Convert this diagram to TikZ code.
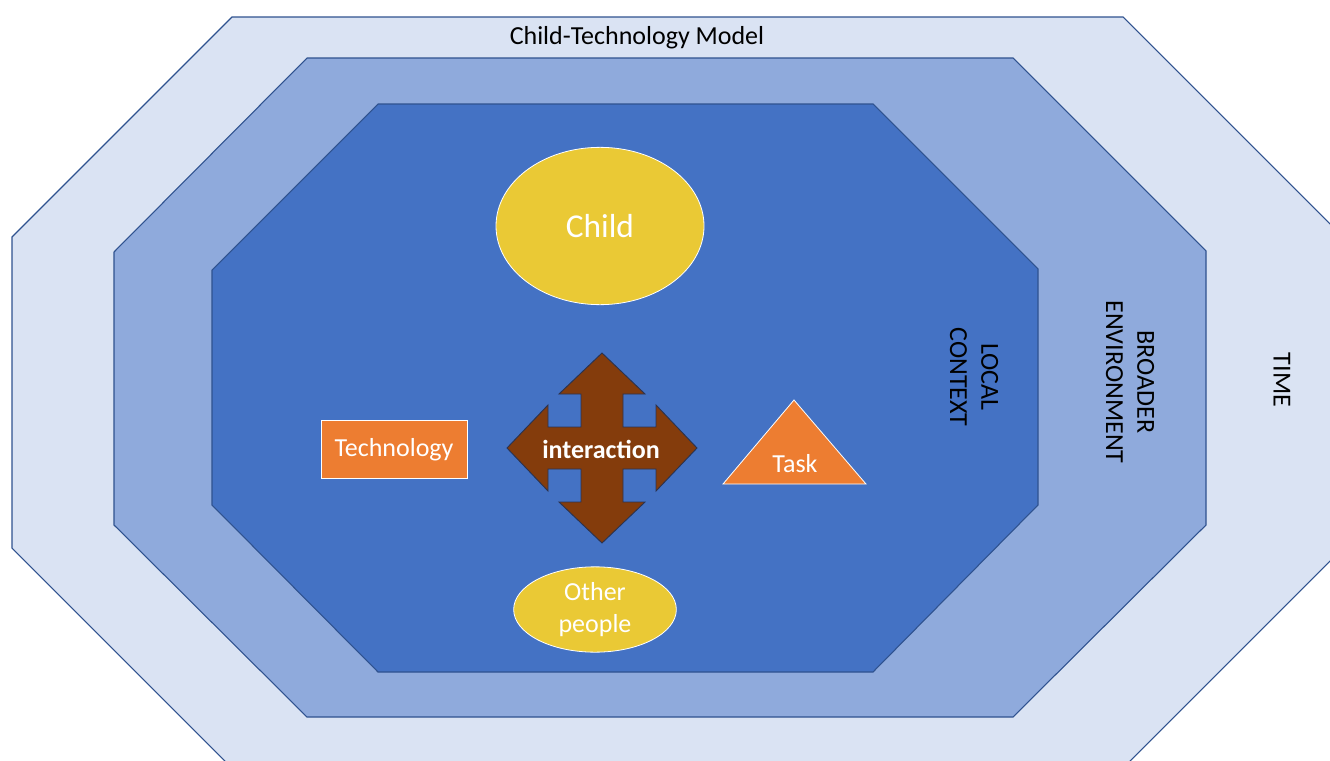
\documentclass[tikz,border=0pt]{standalone}
\usepackage{fontspec}
\setmainfont{Carlito}
\usetikzlibrary{shapes.geometric}
\definecolor{timefill}{HTML}{DAE3F3}
\definecolor{broadfill}{HTML}{8FAADC}
\definecolor{localfill}{HTML}{4472C4}
\definecolor{ringline}{HTML}{2F528F}
\definecolor{childyellow}{HTML}{EAC935}
\definecolor{techorange}{HTML}{ED7D31}
\definecolor{arrowbrown}{HTML}{843C0C}
\definecolor{arrowline}{HTML}{2B3350}
\tikzstyle{ring} = [draw=ringline, line width=0.8pt]
\tikzstyle{person} = [ellipse, draw=white, line width=0.6pt, fill=childyellow, text=white, inner sep=0pt, align=center, font=\fontsize{19.5}{23.5}\selectfont]
\tikzstyle{tool} = [rectangle, draw=white, line width=0.6pt, fill=techorange, text=white, inner sep=0pt, font=\fontsize{19.5}{23.5}\selectfont]
\tikzstyle{tri} = [draw=white, line width=0.6pt, fill=techorange]
\tikzstyle{cross} = [draw=arrowline, line width=0.7pt, fill=arrowbrown]
\tikzstyle{sidelabel} = [rotate=-90, align=center, text=black, font=\fontsize{19.5}{23.5}\selectfont]

\begin{document}
\begin{tikzpicture}[x=0.75pt, y=-0.75pt]
            \clip (0,0) rectangle (1330,760);
            % the three rings, time outside, local context inside
            \draw [ring, fill=timefill] (232,17) -- (1123,17) -- (1343,237) -- (1343,548) -- (1123,768) -- (232,768) -- (12,548) -- (12,237) -- cycle;
            \draw [ring, fill=broadfill] (307,58) -- (1013,58) -- (1206,251) -- (1206,525) -- (1013,717) -- (307,717) -- (114,525) -- (114,252) -- cycle;
            \draw [ring, fill=localfill] (378,104) -- (873,104) -- (1038,269) -- (1038,505) -- (873,672) -- (378,672) -- (212,505) -- (212,270) -- cycle;
            \node [font=\fontsize{19.5}{23.5}\selectfont] at (637,38) (title) {Child-Technology Model};
            \node [sidelabel] at (974,377) (local) {LOCAL\\CONTEXT};
            \node [sidelabel] at (1130,382) (broad) {BROADER\\ENVIRONMENT};
            \node [sidelabel] at (1282,380) (time) {TIME};
            % four-way arrow in the middle
            \draw [cross, shift={(602,448)}] (0,-95) -- (43,-54) -- (21,-54) -- (21,-21) -- (54,-21) -- (54,-43) -- (95,0) -- (54,43) -- (54,21) -- (21,21) -- (21,54) -- (43,54) -- (0,95) -- (-43,54) -- (-21,54) -- (-21,21) -- (-54,21) -- (-54,43) -- (-95,0) -- (-54,-43) -- (-54,-21) -- (-21,-21) -- (-21,-54) -- (-43,-54) -- cycle;
            \node [text=white, font=\bfseries\fontsize{19.5}{23.5}\selectfont] at (601,449) (interaction) {interaction};
            \node [person, minimum width=156pt, minimum height=118pt, font=\fontsize{25}{30}\selectfont] at (600,226) (child) {Child};
            \node [tool, minimum width=109.5pt, minimum height=44pt] at (394,449.5) (tech) {Technology};
            \draw [tri] (794,400) -- (866,484) -- (723,484) -- cycle;
            \node [text=white, font=\fontsize{19.5}{23.5}\selectfont] at (795,464) (task) {Task};
            \node [person, minimum width=122pt, minimum height=64pt] at (595,609.5) (others) {Other\\people};
            \end{tikzpicture}
\end{document}
